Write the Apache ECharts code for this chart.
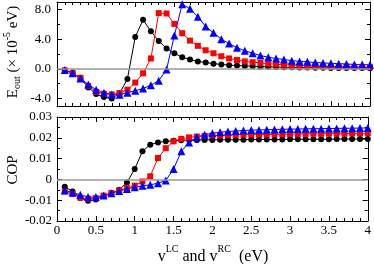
<!DOCTYPE html>
<html>
<head>
<meta charset="utf-8">
<script src="https://cdn.jsdelivr.net/npm/echarts@6/dist/echarts.min.js"></script>
<style>html,body{margin:0;padding:0;background:#fff;}#c{width:374px;height:264px;}</style>
</head>
<body>
<div id="c"></div>
<script>
const xVals = [0.1,0.2,0.3,0.4,0.5,0.6,0.7,0.8,0.9,1.0,1.1,1.2,1.3,1.4,1.5,1.6,1.7,1.8,1.9,2.0,
               2.1,2.2,2.3,2.4,2.5,2.6,2.7,2.8,2.9,3.0,3.1,3.2,3.3,3.4,3.5,3.6,3.7,3.8,3.9,4.0];
const eBlack = [-0.2,-0.5,-1.3,-2.5,-3.4,-3.8,-4.0,-3.3,-1.35,4.3,6.6,5.05,3.75,2.75,2.1,1.55,1.25,1.0,0.85,0.7,
                0.6,0.5,0.45,0.4,0.35,0.3,0.27,0.25,0.22,0.2,0.18,0.17,0.15,0.14,0.13,0.12,0.11,0.1,0.1,0.09];
const eRed = [-0.2,-0.6,-1.2,-2.3,-3.1,-3.35,-3.45,-3.25,-2.8,-1.85,-0.6,1.4,7.5,7.45,6.05,4.8,3.8,3.1,2.5,2.1,
              1.7,1.4,1.2,1.0,0.9,0.8,0.7,0.62,0.55,0.5,0.45,0.42,0.38,0.35,0.32,0.3,0.28,0.26,0.24,0.22];
const eBlue = [-0.15,-0.6,-1.3,-2.1,-2.8,-3.2,-3.45,-3.5,-3.2,-2.95,-2.65,-2.2,-1.6,-0.1,4.5,8.7,8.1,7.0,5.7,4.85,
               4.0,3.4,2.85,2.45,2.1,1.8,1.55,1.4,1.25,1.1,1.0,0.95,0.85,0.8,0.75,0.7,0.65,0.6,0.58,0.55];
const cBlack = [-0.0035,-0.0058,-0.009,-0.0103,-0.0097,-0.008,-0.0068,-0.005,-0.0015,0.005,0.0135,0.0167,0.0178,0.0183,0.0186,0.0188,0.0189,0.019,0.019,0.019,
                0.0191,0.0191,0.0191,0.0191,0.0192,0.0192,0.0192,0.0192,0.0192,0.0193,0.0193,0.0193,0.0193,0.0193,0.0193,0.0194,0.0194,0.0194,0.0194,0.0194];
const cRed = [-0.0058,-0.007,-0.0088,-0.0093,-0.009,-0.0078,-0.0065,-0.0052,-0.0042,-0.003,-0.001,0.0015,0.0103,0.015,0.0183,0.0195,0.0202,0.0206,0.0209,0.0211,
              0.0212,0.0213,0.0214,0.0215,0.0215,0.0216,0.0216,0.0217,0.0217,0.0218,0.0218,0.0219,0.0219,0.0219,0.022,0.022,0.022,0.0221,0.0221,0.0222];
const cBlue = [-0.0053,-0.0063,-0.0074,-0.0085,-0.0085,-0.0078,-0.0066,-0.0056,-0.0046,-0.0038,-0.0031,-0.0026,-0.0018,-0.0005,0.005,0.0135,0.0177,0.0203,0.0215,0.0222,
               0.0227,0.023,0.0233,0.0235,0.0237,0.0238,0.0239,0.024,0.0241,0.0242,0.0242,0.0243,0.0244,0.0244,0.0245,0.0245,0.0246,0.0246,0.0247,0.0247];
const eMajor = [-4, 0, 4, 8];
const eMinor = [-2, 2, 6];

const FONT = 'Liberation Serif';
const pair = (ys) => xVals.map((x, i) => [x, ys[i]]);

function xAxis(grid, pos, labels) {
  return {
    type: 'value', gridIndex: grid, position: pos, min: 0, max: 4, interval: 0.5,
    axisLine: { show: true, onZero: false, lineStyle: { color: '#000', width: 1 } },
    axisTick: { show: true, inside: true, length: 5, lineStyle: { color: '#000' } },
    minorTick: { show: true, splitNumber: 5, length: 3, lineStyle: { color: '#000' } },
    axisLabel: { show: labels, color: '#000', fontFamily: FONT, fontSize: 13, margin: 3 },
    splitLine: { show: false }, minorSplitLine: { show: false }
  };
}
function yTopAxis(pos, vals, len, showLine, labels) {
  return {
    type: 'value', gridIndex: 0, position: pos, min: -5, max: 9,
    axisLine: { show: showLine, onZero: false, lineStyle: { color: '#000', width: 1 } },
    axisTick: { show: true, inside: true, length: len, customValues: vals, lineStyle: { color: '#000' } },
    axisLabel: { show: labels, customValues: vals, color: '#000', fontFamily: FONT, fontSize: 13, margin: 6,
                 formatter: v => Number(v).toFixed(1) },
    splitLine: { show: false }
  };
}
function yBotAxis(pos, labels) {
  return {
    type: 'value', gridIndex: 1, position: pos, min: -0.02, max: 0.03, interval: 0.01,
    axisLine: { show: true, onZero: false, lineStyle: { color: '#000', width: 1 } },
    axisTick: { show: true, inside: true, length: 5, lineStyle: { color: '#000' } },
    minorTick: { show: true, splitNumber: 2, length: 3, lineStyle: { color: '#000' } },
    axisLabel: { show: labels, color: '#000', fontFamily: FONT, fontSize: 13, margin: 5 },
    splitLine: { show: false }, minorSplitLine: { show: false }
  };
}
function ser(data, color, symbol, size, xi, yi, zeroLine) {
  const s = {
    type: 'line', data: pair(data), xAxisIndex: xi, yAxisIndex: yi,
    symbol: symbol, symbolSize: size, showAllSymbol: true,
    lineStyle: { color: color, width: 1 }, itemStyle: { color: color },
    emphasis: { disabled: true }, silent: true
  };
  if (zeroLine) {
    s.markLine = { silent: true, symbol: 'none', label: { show: false },
      lineStyle: { color: '#999', width: 1.5, type: 'solid' }, data: [{ yAxis: 0 }], animation: false };
  }
  return s;
}

const chart = echarts.init(document.getElementById('c'), null, { renderer: 'canvas' });
chart.setOption({
  animation: false,
  backgroundColor: '#fff',
  grid: [
    { left: 57, top: 2, width: 313, height: 104 },
    { left: 57, top: 117, width: 313, height: 104 }
  ],
  xAxis: [xAxis(0, 'bottom', false), xAxis(0, 'top', false), xAxis(1, 'bottom', true), xAxis(1, 'top', false)],
  yAxis: [
    yTopAxis('left', eMajor, 5, true, true),
    yTopAxis('right', eMajor, 5, true, false),
    yTopAxis('left', eMinor, 3, false, false),
    yTopAxis('right', eMinor, 3, false, false),
    yBotAxis('left', true),
    yBotAxis('right', false)
  ],
  series: [
    ser(eBlack, '#000000', 'circle', 6, 0, 0, true),
    ser(eRed, '#ff0000', 'rect', 6, 0, 0, false),
    ser(eBlue, '#0000ff', 'triangle', 8, 0, 0, false),
    ser(cBlack, '#000000', 'circle', 6, 2, 4, true),
    ser(cRed, '#ff0000', 'rect', 6, 2, 4, false),
    ser(cBlue, '#0000ff', 'triangle', 8, 2, 4, false)
  ],
  graphic: [
    { type: 'text', x: 13, y: 52, rotation: Math.PI / 2,
      style: { text: '{m|E}{sub|out}{m| (× 10}{sup|-5}{m| eV)}', align: 'center', verticalAlign: 'middle',
        rich: {
          m: { fontFamily: FONT, fontSize: 15, fill: '#000' },
          sub: { fontFamily: FONT, fontSize: 10, fill: '#000', padding: [9, 0, 0, 0] },
          sup: { fontFamily: FONT, fontSize: 10, fill: '#000', padding: [0, 0, 12, 0] }
        } } },
    { type: 'text', x: 13, y: 170, rotation: Math.PI / 2,
      style: { text: 'COP', align: 'center', verticalAlign: 'middle', fontFamily: FONT, fontSize: 15, fill: '#000' } },
    { type: 'text', x: 213, y: 257,
      style: { text: '{m|v}{sup|LC}{m| and v}{sup|RC}{m|  (eV)}', align: 'center', verticalAlign: 'middle',
        rich: {
          m: { fontFamily: FONT, fontSize: 16, fill: '#000' },
          sup: { fontFamily: FONT, fontSize: 10, fill: '#000', padding: [0, 0, 16, 0] }
        } } }
  ]
});
</script>
</body>
</html>
